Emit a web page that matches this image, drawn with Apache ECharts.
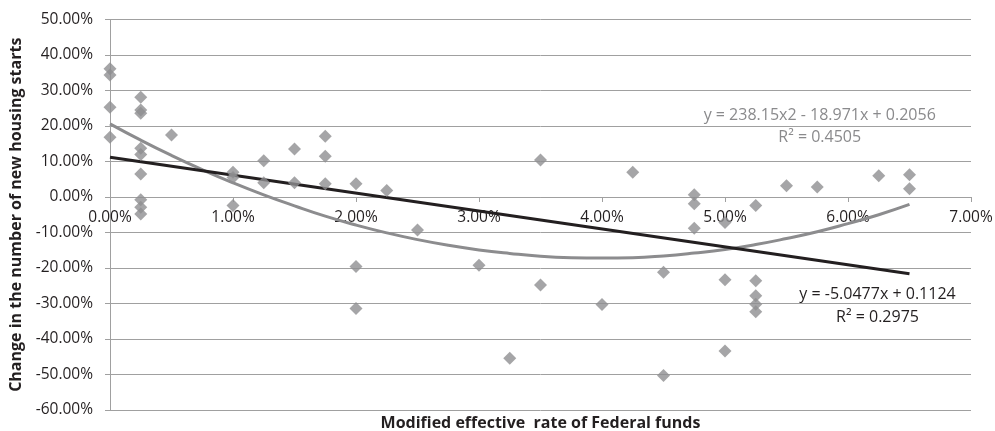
<!DOCTYPE html>
<html>
<head>
<meta charset="utf-8">
<script src="https://cdn.jsdelivr.net/npm/echarts@6/dist/echarts.min.js"></script>
<style>html,body{margin:0;padding:0;background:#fff}#c{width:995px;height:431px}</style>
</head>
<body>
<div id="c"></div>
<script>
// Scatter points (x: effective Fed funds rate %, y: change in housing starts %)
const pointX = [0,0,0,0,
  0.25,0.25,0.25,0.25,0.25,0.25,0.25,0.25,0.25,
  0.5,
  1.0,1.0,1.0,
  1.25,1.25,
  1.5,1.5,
  1.75,1.75,1.75,
  2.0,2.0,2.0,
  2.25,
  2.5,
  3.0,
  3.25,
  3.5,3.5,
  4.0,
  4.25,
  4.5,4.5,
  4.75,4.75,4.75,
  5.0,5.0,5.0,
  5.25,5.25,5.25,5.25,5.25,
  5.5,
  5.75,
  6.25,
  6.5,6.5];
const pointY = [36.1,34.4,25.3,16.8,
  28.1,24.5,23.6,13.7,12.0,6.5,-0.8,-2.9,-4.8,
  17.5,
  7.0,5.5,-2.4,
  10.2,4.0,
  13.5,4.0,
  17.1,11.5,3.7,
  3.7,-19.6,-31.4,
  1.8,
  -9.3,
  -19.2,
  -45.4,
  10.4,-24.8,
  -30.3,
  7.0,
  -21.2,-50.3,
  0.6,-1.9,-8.8,
  -7.2,-23.3,-43.4,
  -2.4,-23.6,-27.8,-30.2,-32.3,
  3.2,
  2.8,
  6.0,
  6.3,2.3];

// Polynomial trend line
const polyX = [0,0.25,0.5,0.75,1,1.25,1.5,1.75,2,2.25,2.5,2.75,3,3.25,3.5,3.75,4,4.25,4.5,4.75,5,5.25,5.5,5.75,6,6.25,6.5];
const polyY = [20.6,16.0,11.7,7.7,4.0,0.6,-2.5,-5.4,-7.9,-10.1,-12.0,-13.6,-14.9,-15.9,-16.7,-17.1,-17.2,-17.1,-16.6,-15.8,-14.8,-13.4,-11.7,-9.8,-7.5,-5.0,-2.1];

// Linear trend line
const linX = [0, 6.5];
const linY = [11.2, -21.6];

// Axis settings
const xTicks = {min: 0, max: 7, interval: 1};
const yTicks = {min: -60, max: 50, interval: 10};

const polyLabel = ['y = 238.15x2 - 18.971x + 0.2056', 'R² = 0.4505'];
const linLabel = ['y = -5.0477x + 0.1124', 'R² = 0.2975'];

const xName = 'Modified effective  rate of Federal funds';
const yName = 'Change in the number of new housing starts';

const zip = (a, b) => a.map((v, i) => [v, b[i]]);
const FONT = 'Open Sans';
const pct = v => v.toFixed(2) + '%';

const chart = echarts.init(document.getElementById('c'));
chart.setOption({
  animation: false,
  grid: {left: 110, right: 24, top: 19.5, bottom: 21, outerBoundsMode: 'none', containLabel: false},
  xAxis: {
    type: 'value', min: xTicks.min, max: xTicks.max, interval: xTicks.interval,
    position: 'bottom', offset: -213,
    axisLine: {onZero: false, lineStyle: {color: '#a0a0a0', width: 1}},
    axisTick: {show: true, length: 5, lineStyle: {color: '#a0a0a0'}},
    axisLabel: {formatter: pct, color: '#231f20', fontSize: 15.5, fontFamily: FONT, margin: 13},
    splitLine: {show: false},
    name: xName, nameLocation: 'middle', nameGap: 218,
    nameTextStyle: {fontWeight: 'bold', fontSize: 16, color: '#231f20', fontFamily: FONT}
  },
  yAxis: {
    type: 'value', min: yTicks.min, max: yTicks.max, interval: yTicks.interval,
    axisLine: {show: true, onZero: false, lineStyle: {color: '#a0a0a0', width: 1}},
    axisTick: {show: true, length: 5, lineStyle: {color: '#a0a0a0'}},
    axisLabel: {formatter: pct, color: '#231f20', fontSize: 15.5, fontFamily: FONT, margin: 17},
    splitLine: {show: true, lineStyle: {color: '#a0a0a0', width: 1}},
    name: yName, nameLocation: 'middle', nameGap: 82, nameRotate: 90,
    nameTextStyle: {fontWeight: 'bold', fontSize: 16, color: '#231f20', fontFamily: FONT}
  },
  series: [
    {
      type: 'line', data: zip(polyX, polyY), smooth: true, showSymbol: false, symbol: 'none',
      lineStyle: {color: '#8c8c8e', width: 3}, z: 3,
      markPoint: {
        symbol: 'circle', symbolSize: 0,
        label: {show: true, color: '#8a8a8c', fontSize: 16, fontFamily: FONT, lineHeight: 22, align: 'center',
          formatter: polyLabel.join('\n')},
        data: [{coord: [5.77, 20.0]}]
      }
    },
    {
      type: 'line', data: zip(linX, linY), showSymbol: false, symbol: 'none',
      lineStyle: {color: '#231f20', width: 3}, z: 4,
      markPoint: {
        symbol: 'circle', symbolSize: 0,
        label: {show: true, color: '#231f20', fontSize: 16, fontFamily: FONT, lineHeight: 23, align: 'center',
          formatter: linLabel.join('\n')},
        data: [{coord: [6.24, -30.6]}]
      }
    },
    {
      type: 'scatter', data: zip(pointX, pointY), symbol: 'diamond', symbolSize: 13,
      itemStyle: {color: '#8e8f91'}, z: 5
    }
  ]
});
</script>
</body>
</html>
